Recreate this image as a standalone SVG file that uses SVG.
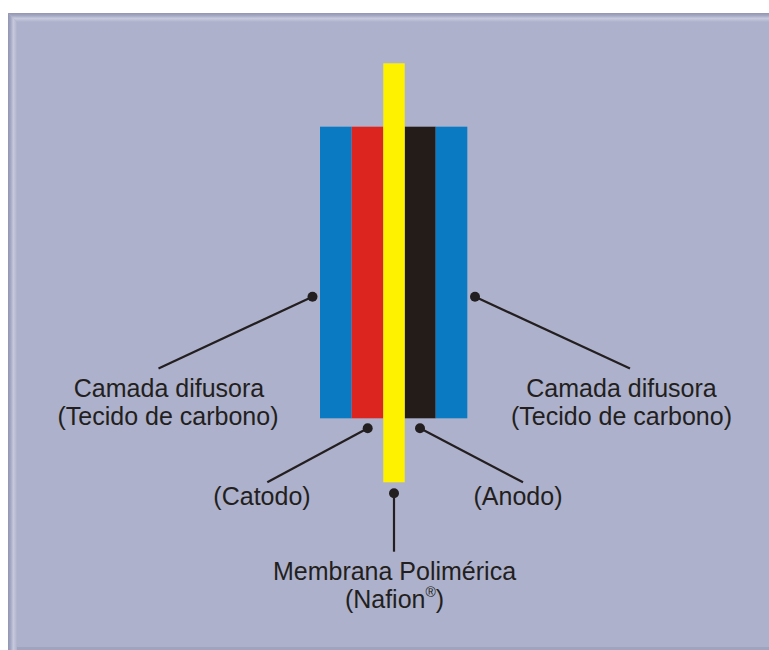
<svg xmlns="http://www.w3.org/2000/svg" width="769" height="650" viewBox="0 0 769 650">
  <defs>
    <linearGradient id="gl" x1="8" y1="0" x2="17" y2="0" gradientUnits="userSpaceOnUse">
      <stop offset="0" stop-color="#9296b2"/>
      <stop offset="0.3" stop-color="#a5a8c3"/>
      <stop offset="0.6" stop-color="#c6c9dd"/>
      <stop offset="0.8" stop-color="#bbbed4"/>
      <stop offset="1" stop-color="#adb1cb"/>
    </linearGradient>
    <linearGradient id="gt" x1="0" y1="13" x2="0" y2="22" gradientUnits="userSpaceOnUse">
      <stop offset="0" stop-color="#9296b2"/>
      <stop offset="0.3" stop-color="#a5a8c3"/>
      <stop offset="0.6" stop-color="#c6c9dd"/>
      <stop offset="0.8" stop-color="#bbbed4"/>
      <stop offset="1" stop-color="#adb1cb"/>
    </linearGradient>
    <style>
      .lbl { font-family: "Liberation Sans", Arial, sans-serif; font-size: 25px; fill: #231f20; text-anchor: middle; }
      .ln { stroke: #231f20; stroke-width: 2.2; fill: none; }
      .dot { fill: #231f20; }
    </style>
  </defs>
  <rect x="0" y="0" width="769" height="650" fill="#ffffff"/>
  <g id="frame">
    <rect x="8" y="13" width="761" height="637" fill="#adb1cb"/>
    <polygon points="8,13 17,22 17,650 8,650" fill="url(#gl)"/>
    <polygon points="8,13 769,13 769,22 17,22" fill="url(#gt)"/>
    <rect x="17" y="647" width="752" height="3" fill="#a0a4be"/>
  </g>
  <g id="stack">
    <rect id="blue-left" x="320" y="126.7" width="31.7" height="291.6" fill="#0a7bc2"/>
    <rect id="cathode" x="351.7" y="126.7" width="31.6" height="291.6" fill="#dc251e"/>
    <rect id="anode" x="404.7" y="126.7" width="31" height="291.6" fill="#231c19"/>
    <rect id="blue-right" x="435.7" y="126.7" width="31.6" height="291.6" fill="#0a7bc2"/>
    <rect id="membrane" x="383.3" y="63.3" width="21.4" height="419" fill="#fff200"/>
  </g>
  <g id="connectors">
    <line class="ln" x1="312.5" y1="296.7" x2="158.5" y2="368.5"/>
    <circle class="dot" cx="312.5" cy="296.7" r="5"/>
    <line class="ln" x1="475" y1="296.7" x2="630" y2="368.5"/>
    <circle class="dot" cx="475" cy="296.7" r="5"/>
    <line class="ln" x1="367.7" y1="428.3" x2="267.3" y2="482.3"/>
    <circle class="dot" cx="367.7" cy="428.3" r="5"/>
    <line class="ln" x1="420" y1="428.3" x2="523" y2="482.3"/>
    <circle class="dot" cx="420" cy="428.3" r="5"/>
    <line class="ln" x1="394" y1="493.3" x2="394" y2="551.7"/>
    <circle class="dot" cx="394" cy="493.3" r="5"/>
  </g>
  <g id="label-left">
    <text class="lbl" x="169" y="397">Camada difusora</text>
    <text class="lbl" x="168" y="425">(Tecido de carbono)</text>
  </g>
  <g id="label-right">
    <text class="lbl" x="621.5" y="397">Camada difusora</text>
    <text class="lbl" x="621.5" y="425">(Tecido de carbono)</text>
  </g>
  <g id="label-catodo">
    <text class="lbl" x="262" y="505">(Catodo)</text>
  </g>
  <g id="label-anodo">
    <text class="lbl" x="518" y="505">(Anodo)</text>
  </g>
  <g id="label-membrana">
    <text class="lbl" x="394.5" y="580">Membrana Polimérica</text>
    <text class="lbl" x="394.5" y="608">(Nafion<tspan font-size="14" dy="-11">®</tspan><tspan dy="11">)</tspan></text>
  </g>
</svg>
